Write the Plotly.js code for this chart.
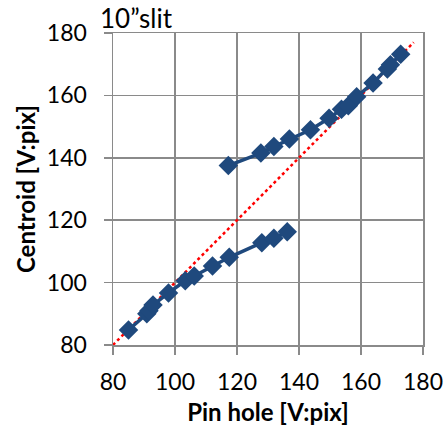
<!DOCTYPE html>
<html>
<head>
<meta charset="utf-8">
<script src="https://cdn.plot.ly/plotly-3.0.1.min.js"></script>
<style>html,body{margin:0;padding:0;background:#fff;}#chart{width:446px;height:429px;}</style>
</head>
<body>
<div id="chart"></div>
<script>
// Upper branch
const upperX = [117.2, 127.7, 131.9, 136.9, 143.7, 149.7, 153.7, 155.9, 158.6, 163.9, 168.5, 169.5, 172.8];
const upperY = [137.5, 141.5, 143.6, 146.0, 149.0, 152.7, 155.6, 156.7, 159.6, 164.0, 168.5, 169.8, 173.2];
// Lower branch
const lowerX = [85.0, 90.9, 91.6, 92.9, 97.9, 103.3, 106.2, 112.1, 117.5, 128.0, 131.9, 136.2];
const lowerY = [84.8, 90.0, 91.0, 92.8, 96.7, 100.6, 102.1, 105.3, 108.1, 112.8, 114.2, 116.3];
// Reference line y = x
const refX = [80, 177];
const refY = [80, 177];
const xTicks = [80, 100, 120, 140, 160, 180];
const yTicks = [80, 100, 120, 140, 160, 180];

const blue = '#1f497d';
const font = 'Lato, "Open Sans", sans-serif';

const traces = [
  {x: refX, y: refY, mode: 'lines', line: {color: '#ff0000', width: 2.5, dash: 'dot'}, hoverinfo: 'skip'},
  {x: lowerX, y: lowerY, mode: 'lines+markers', line: {color: blue, width: 3.5},
   marker: {symbol: 'diamond', size: 15, color: blue}},
  {x: upperX, y: upperY, mode: 'lines+markers', line: {color: blue, width: 3.5},
   marker: {symbol: 'diamond', size: 15, color: blue}}
];

const axisCommon = {
  showgrid: true, gridcolor: '#8a8a8a', gridwidth: 1.5,
  showline: true, linecolor: '#8a8a8a', linewidth: 1.5, mirror: true,
  ticks: 'outside', ticklen: 8, tickwidth: 1.5, tickcolor: '#8a8a8a',
  tickfont: {family: font, size: 23, color: '#000'},
  zeroline: false, fixedrange: true
};

const layout = {
  width: 446, height: 429,
  margin: {l: 113, r: 23, t: 33, b: 84},
  paper_bgcolor: '#fff', plot_bgcolor: '#fff',
  showlegend: false,
  title: {text: '10”slit', font: {family: font, size: 26, color: '#000'},
          automargin: false,
          xref: 'container', x: 100/446, xanchor: 'left',
          yref: 'container', y: 1 - 19/429, yanchor: 'middle'},
  xaxis: Object.assign({}, axisCommon, {
    range: [80, 180], tickvals: xTicks, ticktext: xTicks.map(String),
    ticklabelstandoff: 8,
    title: {text: '<b>Pin hole [V:pix]</b>', font: {family: font, size: 24, color: '#000'}, standoff: 10}
  }),
  yaxis: Object.assign({}, axisCommon, {
    range: [80, 180], tickvals: yTicks, ticktext: yTicks.map(String),
    ticklabelstandoff: 12,
    title: {text: '<b>Centroid [V:pix]</b>', font: {family: font, size: 24, color: '#000'}, standoff: 4}
  })
};

Plotly.newPlot('chart', traces, layout, {displayModeBar: false, staticPlot: true});
</script>
</body>
</html>
